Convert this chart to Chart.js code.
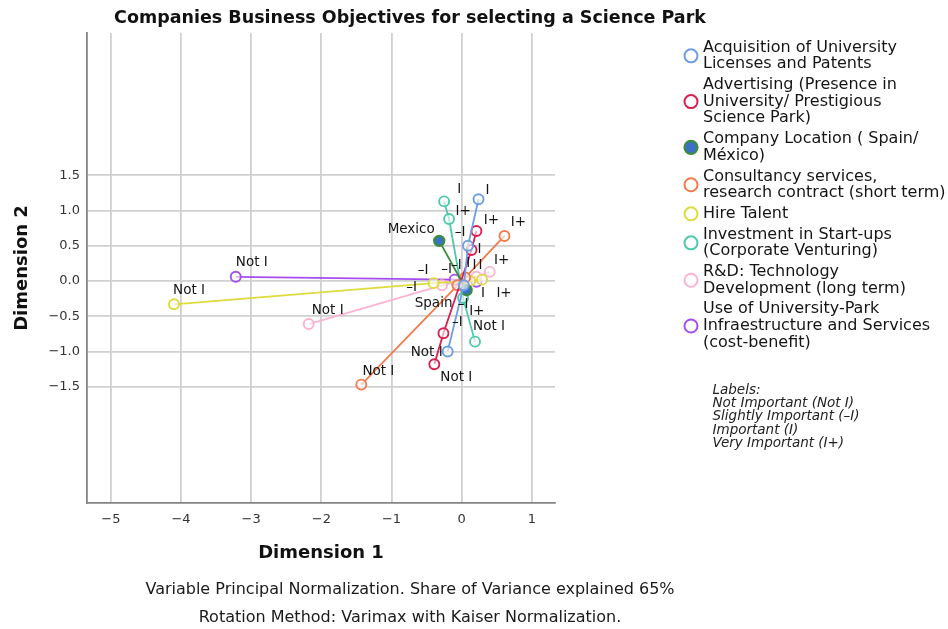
<!DOCTYPE html>
<html>
<head>
<meta charset="utf-8">
<script src="https://cdn.jsdelivr.net/npm/chart.js@4/dist/chart.umd.min.js"></script>
<style>
  html, body { margin: 0; padding: 0; background: #ffffff; }
  canvas { display: block; }
</style>
</head>
<body>
<canvas id="chart" width="948" height="629"></canvas>
<script>
const FONT = '"DejaVu Sans", "Open Sans", sans-serif';

// Variable names (legend), line breaks as displayed
const seriesNames = [
  'Acquisition of University\nLicenses and Patents',
  'Advertising (Presence in\nUniversity/ Prestigious\nScience Park)',
  'Company Location ( Spain/\nMéxico)',
  'Consultancy services,\nresearch contract (short term)',
  'Hire Talent',
  'Investment in Start-ups\n(Corporate Venturing)',
  'R&D: Technology\nDevelopment (long term)',
  'Use of University-Park\nInfraestructure and Services\n(cost-benefit)'
];

// Category quantifications (Dimension 1, Dimension 2) per variable
const acquisitionX = [-0.20, 0.03, 0.09, 0.24];
const acquisitionY = [-1.00, -0.06, 0.50, 1.16];
const acquisitionCat = ['Not I', 'I+', '–I', 'I'];

const advertisingX = [-0.39, -0.26, 0.14, 0.21];
const advertisingY = [-1.18, -0.74, 0.44, 0.71];
const advertisingCat = ['Not I', '–I', 'I', 'I+'];

const locationX = [-0.32, 0.07];
const locationY = [0.57, -0.13];
const locationCat = ['Mexico', 'Spain'];

const consultancyX = [-1.43, -0.06, 0.05, 0.61];
const consultancyY = [-1.47, -0.06, 0.05, 0.64];
const consultancyCat = ['Not I', '–I', 'I', 'I+'];

const talentX = [-4.10, -0.40, 0.12, 0.29];
const talentY = [-0.33, -0.03, 0.00, 0.02];
const talentCat = ['Not I', '–I', 'I', 'I+'];

const investmentX = [0.19, 0.02, -0.18, -0.25];
const investmentY = [-0.86, -0.24, 0.88, 1.13];
const investmentCat = ['Not I', '–I', 'I+', 'I'];

const rdX = [-2.18, -0.28, 0.21, 0.40];
const rdY = [-0.61, -0.06, 0.06, 0.13];
const rdCat = ['Not I', '–I', 'I', 'I+'];

const facilitiesX = [-3.22, -0.10, 0.21];
const facilitiesY = [0.06, 0.02, -0.01];
const facilitiesCat = ['Not I', '–I', 'I'];

// Axis ticks
const xTicks = [-5, -4, -3, -2, -1, 0, 1];
const yTicks = [-1.5, -1.0, -0.5, 0.0, 0.5, 1.0, 1.5];

const keyLines = [
  'Labels:',
  'Not Important (Not I)',
  'Slightly Important (–I)',
  'Important (I)',
  'Very Important (I+)'
];
const footnotes = [
  'Variable Principal Normalization. Share of Variance explained 65%',
  'Rotation Method: Varimax with Kaiser Normalization.'
];

// Styling
const colors = ['#6e9de6', '#d81f50', '#3b8c3f', '#f47a4e', '#dedb3c', '#4dcaaa', '#fbb3d4', '#a54ef0'];
const WHITE = 'rgba(255,255,255,0.6)';
const fills  = [WHITE, WHITE, '#3a70c7', WHITE, WHITE, WHITE, WHITE, WHITE];
// text offsets (px) of each category label relative to its point
const labelOffsets = [
  [[-21, 1], [13, 26], [-8, -13], [9, -9]],
  [[22, 13], [14, -11], [8, -1], [15, -11]],
  [[-28, -11], [-33, 13]],
  [[17, -13], [-1, -20], [3, -14], [14, -13]],
  [[15, -14], [-22, 4], [13, 12], [22, 14]],
  [[14, -15], [0, 7], [14, -8], [15, -12]],
  [[19, -14], [-19, -15], [-2, -11], [12, -11]],
  [[16, -14], [-8, -10], [4, -16]]
];

const variables = [
  [acquisitionX, acquisitionY, acquisitionCat],
  [advertisingX, advertisingY, advertisingCat],
  [locationX, locationY, locationCat],
  [consultancyX, consultancyY, consultancyCat],
  [talentX, talentY, talentCat],
  [investmentX, investmentY, investmentCat],
  [rdX, rdY, rdCat],
  [facilitiesX, facilitiesY, facilitiesCat]
];

const datasets = variables.map(([xs, ys, cats], i) => ({
  label: seriesNames[i].replace(/\n/g, ' '),
  data: xs.map((x, j) => ({ x, y: ys[j] })),
  categories: cats,
  labelOffsets: labelOffsets[i],
  showLine: true,
  borderColor: colors[i],
  backgroundColor: fills[i],
  borderWidth: 1.8,
  pointRadius: 5,
  pointBorderWidth: i === 2 ? 2.4 : 1.9,
  pointBorderColor: colors[i],
  pointBackgroundColor: fills[i],
  tension: 0
}));

// Category labels next to each point
const pointLabels = {
  id: 'pointLabels',
  afterDatasetsDraw(chart) {
    const ctx = chart.ctx;
    ctx.save();
    ctx.font = '13.5px ' + FONT;
    ctx.fillStyle = '#151515';
    ctx.textAlign = 'center';
    ctx.textBaseline = 'middle';
    chart.data.datasets.forEach((ds, i) => {
      chart.getDatasetMeta(i).data.forEach((pt, j) => {
        const off = ds.labelOffsets[j];
        ctx.fillText(ds.categories[j], pt.x + off[0], pt.y + off[1]);
      });
    });
    ctx.restore();
  }
};

// Title, legend, label key and footnotes
const decorations = {
  id: 'decorations',
  beforeDraw(chart) {
    const ctx = chart.ctx;
    ctx.save();
    ctx.fillStyle = '#ffffff';
    ctx.fillRect(0, 0, chart.width, chart.height);
    ctx.restore();
  },
  afterDraw(chart) {
    const ctx = chart.ctx;
    ctx.save();
    // title
    ctx.font = 'bold 17.5px ' + FONT;
    ctx.fillStyle = '#111';
    ctx.textAlign = 'center';
    ctx.textBaseline = 'middle';
    ctx.fillText('Companies Business Objectives for selecting a Science Park', 410, 18);

    // legend
    const lh = 16.7, gap = 4;
    let y = 47.5;
    ctx.font = '16px ' + FONT;
    ctx.textAlign = 'left';
    chart.data.datasets.forEach((ds, i) => {
      const lines = seriesNames[i].split('\n');
      const mid = y + (lines.length - 1) * lh / 2;
      ctx.beginPath();
      ctx.arc(691, mid, 6.5, 0, Math.PI * 2);
      ctx.fillStyle = i === 2 ? '#3a70c7' : '#ffffff';
      ctx.fill();
      ctx.lineWidth = i === 2 ? 2.2 : 2;
      ctx.strokeStyle = colors[i];
      ctx.stroke();
      ctx.fillStyle = '#151515';
      lines.forEach((t, k) => ctx.fillText(t, 703, y + k * lh));
      y += lines.length * lh + gap;
    });

    // label key
    ctx.font = 'italic 13.5px ' + FONT;
    ctx.fillStyle = '#222';
    const keyY = [390.7, 403.5, 416.7, 430, 443.5];
    keyLines.forEach((t, k) => ctx.fillText(t, 712.5, keyY[k]));

    // footnotes
    ctx.font = '16px ' + FONT;
    ctx.fillStyle = '#1a1a1a';
    ctx.textAlign = 'center';
    ctx.fillText(footnotes[0], 410, 590);
    ctx.fillText(footnotes[1], 410, 618);
    ctx.restore();
  }
};

const fmt = v => (v < 0 ? '\u2212' : '') + Math.abs(v);

new Chart(document.getElementById('chart'), {
  type: 'scatter',
  data: { datasets },
  plugins: [pointLabels, decorations],
  options: {
    responsive: false,
    devicePixelRatio: 1,
    animation: false,
    layout: { padding: { top: 33, right: 393, left: 0, bottom: 0 } },
    plugins: { legend: { display: false }, tooltip: { enabled: false }, title: { display: false } },
    scales: {
      x: {
        type: 'linear',
        min: -5.34,
        max: 1.33,
        afterBuildTicks: s => { s.ticks = xTicks.map(v => ({ value: v })); },
        afterFit: s => { s.height = 126; },
        grid: { color: '#d0d0d0', lineWidth: 1.8, drawTicks: false },
        border: { color: '#858585', width: 1.8 },
        ticks: {
          font: { family: FONT, size: 13 },
          color: '#333',
          padding: 9,
          callback: v => fmt(v)
        },
        title: {
          display: true,
          text: 'Dimension 1',
          font: { family: FONT, size: 18, weight: 'bold' },
          color: '#111',
          padding: { top: 0, bottom: 65 }
        }
      },
      y: {
        type: 'linear',
        min: -3.15,
        max: 3.52,
        afterBuildTicks: s => { s.ticks = yTicks.map(v => ({ value: v })); },
        afterFit: s => { s.width = 87; },
        grid: { color: '#d0d0d0', lineWidth: 1.8, drawTicks: false },
        border: { color: '#858585', width: 1.8 },
        ticks: {
          font: { family: FONT, size: 13 },
          color: '#333',
          padding: 7,
          callback: v => (v < 0 ? '\u2212' : '') + Math.abs(v).toFixed(1)
        },
        title: {
          display: true,
          text: 'Dimension 2',
          font: { family: FONT, size: 18, weight: 'bold' },
          color: '#111',
          padding: { top: 12, bottom: 0 }
        }
      }
    }
  }
});
</script>
</body>
</html>
